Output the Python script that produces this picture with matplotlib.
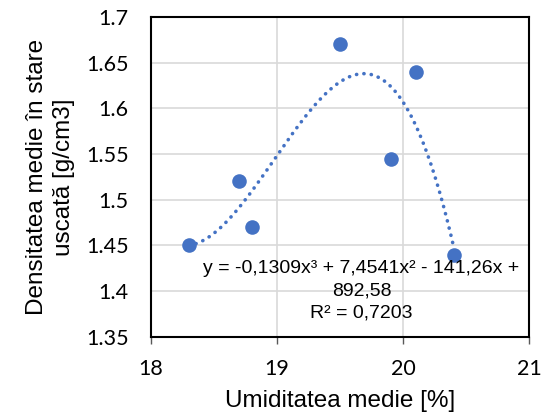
import numpy as np
import matplotlib.pyplot as plt

# data
umiditate = [18.3, 18.7, 18.8, 19.5, 19.9, 20.1, 20.4]
densitate = [1.45, 1.52, 1.47, 1.67, 1.544, 1.64, 1.44]
x_ticks = [18, 19, 20, 21]
y_ticks = [1.35, 1.4, 1.45, 1.5, 1.55, 1.6, 1.65, 1.7]
y_tick_labels = ['1.35', '1.4', '1.45', '1.5', '1.55', '1.6', '1.65', '1.7']
equation = 'y = -0,1309x³ + 7,4541x² - 141,26x +\n892,58\nR² = 0,7203'

blue = '#4472C4'

fig = plt.figure(figsize=(5.45, 4.2), dpi=100)
ax = fig.add_axes([0.277, 0.198, 0.694, 0.762])

# polynomial trendline (order 3), as in the spreadsheet
coef = np.polyfit(umiditate, densitate, 3)
xs = np.linspace(min(umiditate), max(umiditate), 200)
ax.plot(xs, np.polyval(coef, xs), color=blue, lw=2.6,
        linestyle=(0, (0.05, 2.0)), dash_capstyle='round', zorder=2)

ax.scatter(umiditate, densitate, s=110, color=blue, zorder=3, linewidths=0)

ax.set_xlim(18, 21)
ax.set_ylim(1.35, 1.7)
ax.set_xticks(x_ticks)
ax.set_yticks(y_ticks)
ax.set_yticklabels(y_tick_labels)
ax.grid(True, color='#d9d9d9', lw=1.2)
ax.set_axisbelow(True)

for s in ax.spines.values():
    s.set_color('black')
    s.set_linewidth(1.5)

ax.tick_params(axis='y', length=0, pad=16)
ax.tick_params(axis='x', length=5, width=1, color='#595959', pad=11)
for lab in ax.get_xticklabels() + ax.get_yticklabels():
    lab.set_fontfamily('Lato')
    lab.set_fontsize(15.5)

ax.set_xlabel('Umiditatea medie [%]', fontsize=17.5, family='Liberation Sans', labelpad=8)
ax.set_ylabel('Densitatea medie în stare\nuscată [g/cm3]', fontsize=17.5,
              family='Liberation Sans', labelpad=8, linespacing=1.3)

ax.text(19.67, 1.434, equation, ha='center', va='top', multialignment='center',
        fontsize=14, family='Liberation Sans', linespacing=1.4, zorder=4)

fig.savefig('out.png', dpi=100)
